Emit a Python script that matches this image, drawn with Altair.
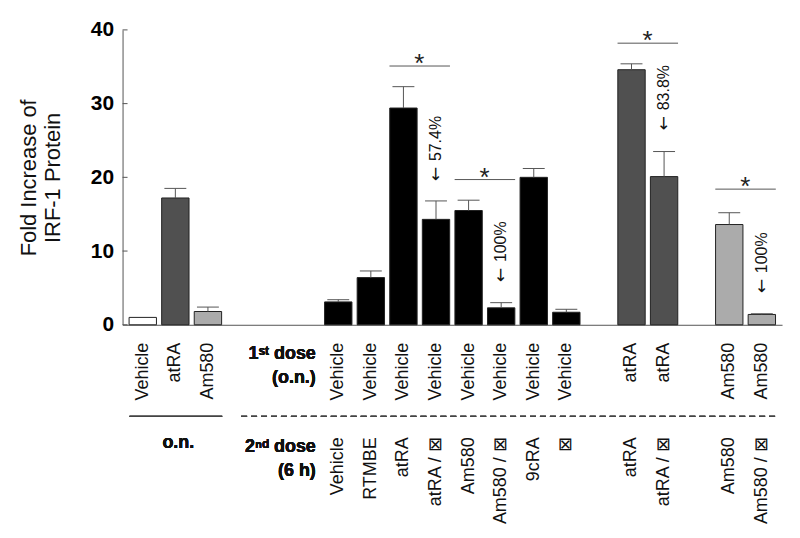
import altair as alt
import pandas as pd

# ---------------- data ----------------
bar_ids = [f"b{i}" for i in range(15)]
values = [1.0, 17.2, 1.8, 3.1, 6.4, 29.4, 14.3, 15.5, 2.3, 20.0, 1.7, 34.6, 20.1, 13.6, 1.4]
upper = [1.0, 18.5, 2.4, 3.4, 7.3, 32.3, 16.8, 16.9, 3.0, 21.2, 2.1, 35.4, 23.5, 15.2, 1.5]
dose1 = ["Vehicle", "atRA", "Am580", "Vehicle", "Vehicle", "Vehicle", "Vehicle", "Vehicle",
         "Vehicle", "Vehicle", "Vehicle", "atRA", "atRA", "Am580", "Am580"]
dose2 = ["", "", "", "Vehicle", "RTMBE", "atRA", "atRA / ⊠", "Am580", "Am580 / ⊠", "9cRA", "⊠",
         "atRA", "atRA / ⊠", "Am580", "Am580 / ⊠"]
series = ["o.n. Vehicle", "o.n. atRA", "o.n. Am580"] + ["sequential"] * 8 + ["atRA"] * 2 + ["Am580"] * 2

bracket_start = ["b5", "b7", "b11", "b13"]
bracket_end = ["b6", "b8", "b12", "b14"]
bracket_level = [35.1, 19.7, 38.2, 18.4]

pct_bar = ["b6", "b8", "b12", "b14"]
pct_level = [19.5, 5.8, 26.4, 4.3]
pct_text = ["57.4%", "100%", "83.8%", "100%"]

y_ticks = [0, 10, 20, 30, 40]
y_title = ["Fold Increase of", "IRF-1 Protein"]

# ---------------- layout / style ----------------
FONT = "Liberation Sans"
x_domain = ["b0", "b1", "b2", "g1", "g2", "g3", "b3", "b4", "b5", "b6", "b7", "b8", "b9", "b10",
            "g4", "b11", "b12", "g5", "b13", "b14"]
xs = alt.Scale(domain=x_domain, paddingInner=0.16, paddingOuter=0.2)
ys = alt.Scale(domain=[0, 40], nice=False)
color_scale = alt.Scale(
    domain=["o.n. Vehicle", "o.n. atRA", "o.n. Am580", "sequential", "atRA", "Am580"],
    range=["#ffffff", "#505050", "#ababab", "#000000", "#505050", "#ababab"],
)
AX = "#555555"

bars_df = pd.DataFrame({"id": bar_ids, "value": values, "upper": upper,
                        "dose1": dose1, "dose2": dose2, "series": series})
err_df = bars_df[bars_df["upper"] > bars_df["value"]]
br_df = pd.DataFrame({"start": bracket_start, "end": bracket_end, "level": bracket_level})
pct_df = pd.DataFrame({"id": pct_bar, "level": pct_level, "label": pct_text})
tick_df = pd.DataFrame({"t": y_ticks})

X = lambda f: alt.X(f, scale=xs, title=None)
Y = lambda f: alt.Y(f, scale=ys, title=y_title)

bars = alt.Chart(bars_df).mark_bar(stroke="#222222", strokeWidth=1).encode(
    x=alt.X("id:N", scale=xs, title=None, axis=alt.Axis(labels=False, ticks=False,
                                                         domainColor=AX, domainWidth=1)),
    y=alt.Y("value:Q", scale=ys, title=y_title, axis=alt.Axis(
        values=y_ticks, ticks=False, grid=False, domainColor=AX, domainWidth=1,
        labelFont=FONT, labelFontSize=21, labelFontWeight="bold", labelColor="#000",
        labelPadding=9, titleFont=FONT, titleLineHeight=24,
        titleFontSize=22, titleFontWeight="normal", titleColor="#111", titlePadding=26)),
    fill=alt.Fill("series:N", scale=color_scale, legend=None),
)

stems = alt.Chart(err_df).mark_rule(color=AX, strokeWidth=1).encode(
    x=X("id:N"), y=Y("value:Q"), y2="upper:Q")
caps = alt.Chart(err_df).mark_rule(color=AX, strokeWidth=1, xOffset=-11, x2Offset=11).encode(
    x=X("id:N"), x2="id:N", y=Y("upper:Q"))

brackets = alt.Chart(br_df).mark_rule(color=AX, strokeWidth=1, xOffset=-14, x2Offset=14).encode(
    x=X("start:N"), x2="end:N", y=Y("level:Q"))
stars = alt.Chart(br_df).mark_text(text="*", font=FONT, fontSize=26, dx=16, dy=11,
                                   baseline="bottom", color="#222").encode(
    x=X("start:N"), y=Y("level:Q"))

arrows = alt.Chart(pct_df).mark_text(text="←", angle=270, align="left", baseline="middle",
                                     font="DejaVu Sans", fontSize=17, color="#111").encode(
    x=X("id:N"), y=Y("level:Q"))
pcts = alt.Chart(pct_df).mark_text(angle=270, align="left", baseline="middle", font=FONT,
                                   fontSize=16, color="#111", dx=20).encode(
    x=X("id:N"), y=Y("level:Q"), text="label:N")

row1 = alt.Chart(bars_df).mark_text(angle=270, align="right", baseline="middle", font=FONT,
                                    fontSize=18, color="#111").encode(
    x=X("id:N"), y=alt.value(314), text="dose1:N")
row2 = alt.Chart(bars_df).mark_text(angle=270, align="right", baseline="middle", font=FONT,
                                    fontSize=18, color="#111").encode(
    x=X("id:N"), y=alt.value(409), text="dose2:N")

inward_ticks = alt.Chart(tick_df).mark_rule(color=AX, strokeWidth=1).encode(
    y=Y("t:Q"), x=alt.value(0), x2=alt.value(5))


def label(txt, x, y, align="right", bold=True):
    return alt.Chart(tick_df).mark_text(
        font=FONT, fontSize=18, fontWeight="bold" if bold else "normal",
        align=align, baseline="middle", color="#111").encode(
        x=alt.value(x), y=alt.value(y), text=alt.value(txt))


texts = [
    label("1ˢᵗ dose", 194, 325),
    label("(o.n.)", 194, 349),
    label("2ⁿᵈ dose", 194, 419),
    label("(6 h)", 194, 443),
    label("o.n.", 56, 415, align="center"),
]

solid_sep = alt.Chart(tick_df).mark_rule(color="#444", strokeWidth=1.2).encode(
    x=alt.value(7), x2=alt.value(100), y=alt.value(388))
dash_sep = alt.Chart(tick_df).mark_rule(color="#444", strokeWidth=1.2, strokeDash=[6, 4]).encode(
    x=alt.value(119), x2=alt.value(657), y=alt.value(388))

chart = alt.layer(
    bars, stems, caps, brackets, stars, arrows, pcts, row1, row2, inward_ticks,
    solid_sep, dash_sep, *texts
).properties(
    width=662, height=296, autosize="none",
    padding={"left": 115, "top": 21, "right": 10, "bottom": 200},
    background="white",
).configure_view(stroke=None)

chart.save("out.html", embed_options={"renderer": "svg", "actions": False})
